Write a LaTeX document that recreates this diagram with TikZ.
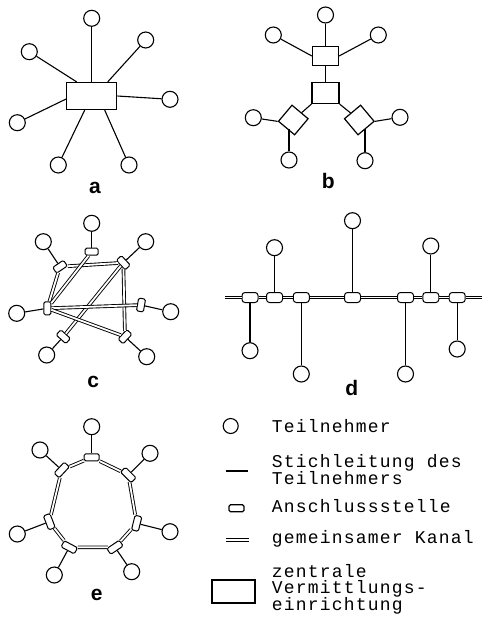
\documentclass[tikz,border=0pt]{standalone}
\usepackage{fontspec}
\setmainfont{Liberation Sans}
\newfontfamily\legendfont[LetterSpace=6.7]{Liberation Mono}
\tikzset{
  wire/.style={line width=1.1pt},
  sub/.style={circle, draw, line width=1.1pt, minimum size=16pt, inner sep=0pt},
  port/.style={rectangle, rounded corners=1.5pt, draw, fill=white, line width=1pt,
               minimum width=7pt, minimum height=13pt, inner sep=0pt},
  eport/.style={port, minimum height=15pt},
  busport/.style={port, minimum width=16pt, minimum height=10pt, rounded corners=3pt},
  chan/.style={double, double distance=1.8pt, line width=0.9pt},
  hub/.style={rectangle, draw, line width=1.2pt, inner sep=0pt},
  tag/.style={font=\bfseries\fontsize{21}{21}\selectfont, anchor=base, inner sep=0pt},
  legend/.style={font=\legendfont\fontsize{18}{16}\selectfont, anchor=base west, inner sep=0pt},
}
\begin{document}
\begin{tikzpicture}[x=1pt, y=-1pt]
\useasboundingbox[fill=white] (0,0) rectangle (488,621);

% ---------- a: star with central switch ----------
\node[hub, minimum width=50pt, minimum height=27pt] (A) at (91.7,96) {};
\node[sub] (a1) at (91.7,18.3) {};
\node[sub] (a2) at (145.7,40) {};
\node[sub] (a3) at (29.3,51.7) {};
\node[sub] (a4) at (170,99.3) {};
\node[sub] (a5) at (17.3,122.7) {};
\node[sub] (a6) at (58.3,165) {};
\node[sub] (a7) at (129,165) {};
\draw[wire] (a1) -- (A.north);
\draw[wire] (a2) -- ([xshift=16pt]A.north);
\draw[wire] (a3) -- ([xshift=-15pt]A.north);
\draw[wire] (a4) -- (A.east);
\draw[wire] (a5) -- ([yshift=-3pt]A.west);
\draw[wire] (a6) -- ([xshift=-7pt]A.south);
\draw[wire] (a7) -- ([xshift=13pt]A.south);
\node[tag] (la) at (95,193) {a};

% ---------- b: tree of switches ----------
\node[hub, minimum width=26pt, minimum height=19pt] (B1) at (325.5,56) {};
\node[hub, minimum width=27pt, minimum height=21pt] (B2) at (325.5,93) {};
\node[hub, minimum size=21pt, rotate=-40] (B3) at (293.3,120) {};
\node[hub, minimum size=21pt, rotate=40] (B4) at (359.3,120) {};
\node[sub] (b1) at (325.5,15) {};
\node[sub] (b2) at (273.3,35) {};
\node[sub] (b3) at (378.3,35) {};
\node[sub] (b4) at (253.3,117.7) {};
\node[sub] (b5) at (289,160) {};
\node[sub] (b6) at (400,117.3) {};
\node[sub] (b7) at (365,160.7) {};
\draw[wire] (b1) -- (B1);
\draw[wire] (b2) -- (B1.west);
\draw[wire] (b3) -- (B1.east);
\draw[wire] (B1) -- (B2);
\draw[wire] (B2.south west) -- (B3);
\draw[wire] (B2.south east) -- (B4);
\draw[wire] (b4) -- (B3.south west);
\draw[wire] (b5) -- (b5 |- B3.south);
\draw[wire] (b6) -- (B4.south east);
\draw[wire] (b7) -- (b7 |- B4.south);
\node[tag] (lb) at (328.3,188) {b};

% ---------- c: partial mesh ----------
\node[port, rotate=90]   (ct)  at (91.7,251.7) {};
\node[port, rotate=124]  (cul) at (60,266.7) {};
\node[port, rotate=43]   (cur) at (123.3,262.7) {};
\node[port, rotate=180]  (cl)  at (47.3,308.3) {};
\node[port, rotate=-10]  (cr)  at (141,305) {};
\node[port, rotate=-132] (cll) at (63.3,336.7) {};
\node[port, rotate=-43]  (clr) at (125,336.7) {};
\node[sub] (c1) at (91.7,223.3) {};
\node[sub] (c2) at (43.3,241.7) {};
\node[sub] (c3) at (145.7,241.7) {};
\node[sub] (c4) at (16.7,313.3) {};
\node[sub] (c5) at (170.7,311.7) {};
\node[sub] (c6) at (46.7,355) {};
\node[sub] (c7) at (146.7,356.7) {};
\draw[wire] (c1) -- (ct);
\draw[wire] (c2) -- (cul);
\draw[wire] (c3) -- (cur);
\draw[wire] (c4) -- (cl);
\draw[wire] (c5) -- (cr);
\draw[wire] (c6) -- (cll);
\draw[wire] (c7) -- (clr);
\draw[chan] (cul) -- (cur);
\draw[chan] (cul) -- (cl);
\draw[chan] (ct) -- (cl);
\draw[chan] (cur) -- (cll);
\draw[chan] (cur) -- (clr);
\draw[chan] (cl) -- (cr);
\draw[chan] (cl) -- (clr);
\node[tag] (lc) at (93.3,387) {c};

% ---------- d: bus ----------
\coordinate (dL) at (225,297.5);
\coordinate (dR) at (482,297.5);
\node[busport] (d1) at (250,297.5) {};
\node[busport] (d2) at (274.5,297.5) {};
\node[busport] (d3) at (301.3,297.5) {};
\node[busport] (d4) at (352.5,297.5) {};
\node[busport] (d5) at (405.5,297.5) {};
\node[busport] (d6) at (430.8,297.5) {};
\node[busport] (d7) at (457.2,297.5) {};
\draw[chan] (dL) -- (d1) -- (d2) -- (d3) -- (d4) -- (d5) -- (d6) -- (d7) -- (dR);
\node[sub] (e1) at (250,350.7) {};
\node[sub] (e2) at (274.5,247.7) {};
\node[sub] (e3) at (301.3,374) {};
\node[sub] (e4) at (352.5,220.7) {};
\node[sub] (e5) at (405.5,374) {};
\node[sub] (e6) at (430.8,246) {};
\node[sub] (e7) at (457.2,349) {};
\draw[wire] (e1) -- (d1);
\draw[wire] (e2) -- (d2);
\draw[wire] (e3) -- (d3);
\draw[wire] (e4) -- (d4);
\draw[wire] (e5) -- (d5);
\draw[wire] (e6) -- (d6);
\draw[wire] (e7) -- (d7);
\node[tag] (ld) at (351.7,395) {d};

% ---------- e: ring ----------
\node[eport, rotate=90]   (rt)  at (91.7,457.3) {};
\node[eport, rotate=45]   (rur) at (128.3,475) {};
\node[eport, rotate=-14]  (rr)  at (136.7,523.3) {};
\node[eport, rotate=-56]  (rlr) at (115,547.3) {};
\node[eport, rotate=-118] (rll) at (69.3,547.3) {};
\node[eport, rotate=201]  (rl)  at (49.3,521.7) {};
\node[eport, rotate=137]  (rul) at (61.7,470) {};
\draw[chan] (rt) -- (rur) -- (rr) -- (rlr) -- (rll) -- (rl) -- (rul) -- (rt);
\node[sub] (f1) at (91.7,426.7) {};
\node[sub] (f2) at (150,453.3) {};
\node[sub] (f3) at (170,531.7) {};
\node[sub] (f4) at (131.7,571.7) {};
\node[sub] (f5) at (54.3,575) {};
\node[sub] (f6) at (17.3,534) {};
\node[sub] (f7) at (40,450) {};
\draw[wire] (f1) -- (rt);
\draw[wire] (f2) -- (rur);
\draw[wire] (f3) -- (rr);
\draw[wire] (f4) -- (rlr);
\draw[wire] (f5) -- (rll);
\draw[wire] (f6) -- (rl);
\draw[wire] (f7) -- (rul);
\node[tag] (le) at (96.7,600) {e};

% ---------- legend ----------
\node[sub, minimum size=15pt] (k1) at (230.7,426) {};
\node[legend] (t1) at (271.7,432.3) {Teilnehmer};
\coordinate (k2a) at (226,471);
\coordinate (k2b) at (248.3,471);
\draw[wire] (k2a) -- (k2b);
\node[legend] (t2a) at (271.7,467.8) {Stichleitung des};
\node[legend] (t2b) at (271.7,484) {Teilnehmers};
\node[eport, rotate=90, line width=1.2pt] (k3) at (236.5,508.3) {};
\node[legend] (t3) at (271.7,512.7) {Anschlussstelle};
\coordinate (k4a) at (226,540);
\coordinate (k4b) at (249.3,540);
\draw[chan] (k4a) -- (k4b);
\node[legend] (t4) at (271.7,543.3) {gemeinsamer Kanal};
\node[hub, minimum width=43pt, minimum height=23pt] (k5) at (233.5,591.5) {};
\node[legend] (t5a) at (271.7,577) {zentrale};
\node[legend] (t5b) at (271.7,593.5) {Vermittlungs-};
\node[legend] (t5c) at (271.7,610) {einrichtung};
\end{tikzpicture}
\end{document}
